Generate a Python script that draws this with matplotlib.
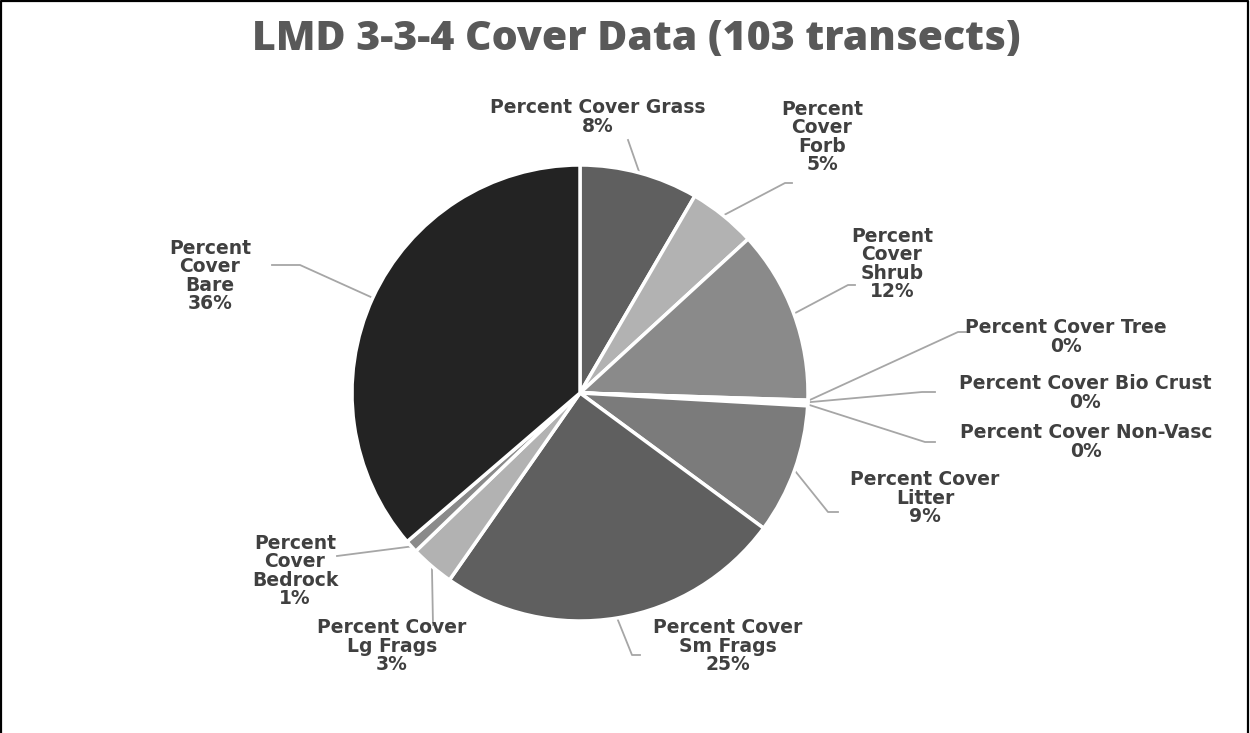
import matplotlib.pyplot as plt
import numpy as np

categories = ['Percent Cover Grass', 'Percent Cover Forb', 'Percent Cover Shrub',
              'Percent Cover Tree', 'Percent Cover Bio Crust', 'Percent Cover Non-Vasc',
              'Percent Cover Litter', 'Percent Cover Sm Frags', 'Percent Cover Lg Frags',
              'Percent Cover Bedrock', 'Percent Cover Bare']
values = [8.4, 4.8, 12.3, 0.1, 0.1, 0.2, 9.2, 24.6, 3.1, 0.9, 36.3]
pct_text = ['8%', '5%', '12%', '0%', '0%', '0%', '9%', '25%', '3%', '1%', '36%']
label_text = ['Percent Cover Grass', 'Percent\nCover\nForb', 'Percent\nCover\nShrub',
              'Percent Cover Tree', 'Percent Cover Bio Crust', 'Percent Cover Non-Vasc',
              'Percent Cover\nLitter', 'Percent Cover\nSm Frags', 'Percent Cover\nLg Frags',
              'Percent\nCover\nBedrock', 'Percent\nCover\nBare']
colors = ['#5f5f5f', '#b2b2b2', '#8a8a8a', '#5f5f5f', '#b2b2b2', '#8a8a8a',
          '#7b7b7b', '#5f5f5f', '#b2b2b2', '#8a8a8a', '#232323']

# label layout in pixels (x, y from top): text centre and leader elbow
W, H = 1250, 733
label_pos = [(598, 117), (822, 137), (892, 264), (1066, 337), (1085, 393), (1086, 442),
             (925, 498), (728, 646), (392, 646), (295, 571), (210, 276)]
elbow = [(628, 140), (785, 183), (848, 285), (958, 332), (922, 392), (925, 442),
         (828, 512), (632, 655), (433, 625), (337, 556), (300, 265)]
line_end = [None, (792, 183), (855, 285), (968, 332), (935, 392), (935, 442),
            (838, 512), (640, 655), None, None, (272, 265)]

fig = plt.figure(figsize=(12.5, 7.33), dpi=100)
ax = fig.add_axes([0, 0, 1, 1])

cx, cy, r = 580, H - 393, 228
wedges, _ = ax.pie(values, colors=colors, startangle=90, counterclock=False,
                   center=(cx, cy), radius=r, frame=True,
                   wedgeprops=dict(edgecolor='white', linewidth=2.5))
ax.set_xlim(0, W)
ax.set_ylim(0, H)
ax.axis('off')

lead = '#a6a6a6'
txt = '#404040'
for i, w in enumerate(wedges):
    th = np.deg2rad((w.theta1 + w.theta2) / 2)
    ex, ey = cx + r * np.cos(th), cy + r * np.sin(th)
    bx, by = elbow[i]
    xs, ys = [ex, bx], [ey, H - by]
    if line_end[i] is not None:
        xs.append(line_end[i][0])
        ys.append(H - line_end[i][1])
    ax.plot(xs, ys, color=lead, lw=1.3, zorder=0)
    lx, ly = label_pos[i]
    ax.text(lx, H - ly, label_text[i] + '\n' + pct_text[i], ha='center', va='center',
            fontsize=13.5, fontweight='bold', color=txt, linespacing=0.95,
            family='DejaVu Sans')

ax.text(636, H - 40, 'LMD 3-3-4 Cover Data (103 transects)', ha='center', va='center',
        fontsize=29.5, fontweight=800, color='#595959', family=['Open Sans', 'DejaVu Sans'])

# outer frame
ax.plot([1, 1, W - 2, W - 2], [0, H - 1, H - 1, 0], color='black', lw=1.6, clip_on=False)

plt.savefig('out.png', dpi=100)
plt.close()
